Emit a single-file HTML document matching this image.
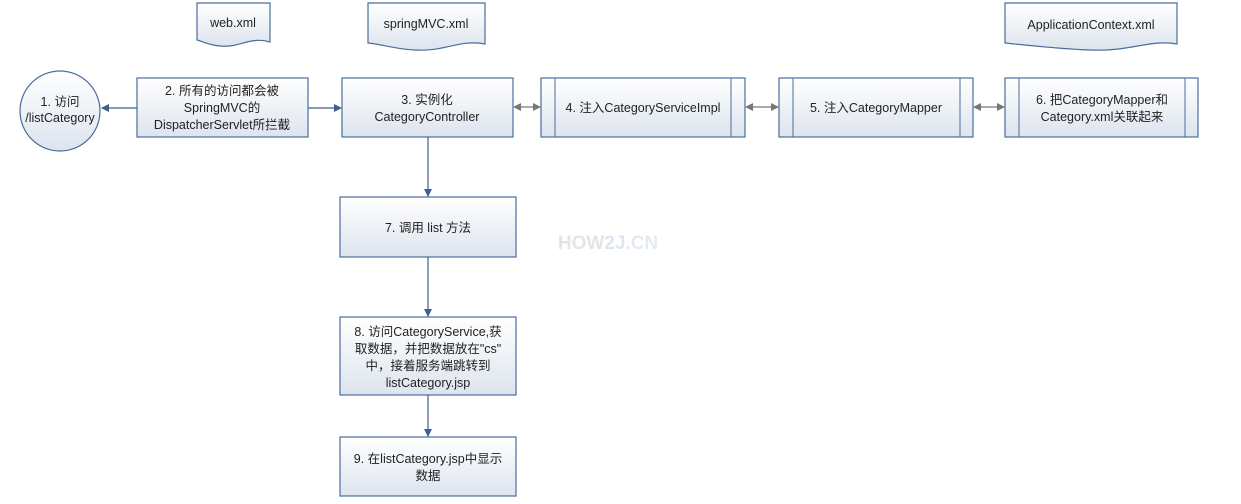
<!DOCTYPE html>
<html><head><meta charset="utf-8"><style>
html,body{margin:0;padding:0;background:#fff;}
svg{display:block;}
text{font-family:"Liberation Sans","Noto Sans CJK SC",sans-serif;font-size:12.5px;fill:#222;text-anchor:middle;}
</style></head><body>
<svg width="1241" height="504" viewBox="0 0 1241 504" xmlns="http://www.w3.org/2000/svg">
<defs>
<linearGradient id="g" x1="0" y1="0" x2="0" y2="1"><stop offset="0" stop-color="#ffffff"/><stop offset="1" stop-color="#dde4ee"/></linearGradient>
<marker id="a" markerWidth="8" markerHeight="8" refX="7" refY="4" orient="auto" markerUnits="userSpaceOnUse"><path d="M0,0 L8,4 L0,8 Z" fill="#3d5f8f"/></marker>
<marker id="b" markerWidth="8" markerHeight="8" refX="7" refY="4" orient="auto-start-reverse" markerUnits="userSpaceOnUse"><path d="M0,0 L8,4 L0,8 Z" fill="#777"/></marker>
</defs>
<g stroke="#4a6d9c" stroke-width="1.2" fill="url(#g)">
<path d="M197,3 H270 V42 C250,36 240,48 220,46 C208,45 202,41 197,40 Z"/>
<path d="M368,3 H485 V44 C460,39 445,52 415,50 C395,49 380,44 368,43 Z"/>
<path d="M1005,3 H1177 V44 C1150,39 1130,52 1090,50 C1060,49 1025,45 1005,43 Z"/>
<circle cx="60" cy="111" r="40"/>
<rect x="137" y="78" width="171" height="59"/>
<rect x="342" y="78" width="171" height="59"/>
<rect x="541" y="78" width="204" height="59"/>
<rect x="779" y="78" width="194" height="59"/>
<rect x="1005" y="78" width="193" height="59"/>
<rect x="340" y="197" width="176" height="60"/>
<rect x="340" y="317" width="176" height="78"/>
<rect x="340" y="437" width="176" height="59"/>
</g>
<g stroke="#4a6d9c" stroke-width="1">
<line x1="555" y1="78" x2="555" y2="137"/><line x1="731" y1="78" x2="731" y2="137"/>
<line x1="793" y1="78" x2="793" y2="137"/><line x1="960" y1="78" x2="960" y2="137"/>
<line x1="1019" y1="78" x2="1019" y2="137"/><line x1="1185" y1="78" x2="1185" y2="137"/>
</g>
<g stroke="#3d5f8f" stroke-width="1.2" fill="none">
<line x1="137" y1="108" x2="102" y2="108" marker-end="url(#a)"/>
<line x1="308" y1="108" x2="341" y2="108" marker-end="url(#a)"/>
<line x1="428" y1="137" x2="428" y2="196" marker-end="url(#a)"/>
<line x1="428" y1="257" x2="428" y2="316" marker-end="url(#a)"/>
<line x1="428" y1="395" x2="428" y2="436" marker-end="url(#a)"/>
</g>
<g stroke="#777" stroke-width="1.2">
<line x1="514" y1="107" x2="540" y2="107" marker-start="url(#b)" marker-end="url(#b)"/>
<line x1="746" y1="107" x2="778" y2="107" marker-start="url(#b)" marker-end="url(#b)"/>
<line x1="974" y1="107" x2="1004" y2="107" marker-start="url(#b)" marker-end="url(#b)"/>
</g>
<text x="233" y="27">web.xml</text>
<text x="426" y="28">springMVC.xml</text>
<text x="1091" y="29">ApplicationContext.xml</text>
<text x="60" y="106">1.  访问</text>
<text x="60" y="122">/listCategory</text>
<text x="222" y="95">2.  所有的访问都会被</text>
<text x="222" y="112">SpringMVC的</text>
<text x="222" y="129">DispatcherServlet所拦截</text>
<text x="427" y="104">3.  实例化</text>
<text x="427" y="121">CategoryController</text>
<text x="643" y="112">4.  注入CategoryServiceImpl</text>
<text x="876" y="112">5.  注入CategoryMapper</text>
<text x="1102" y="104">6. 把CategoryMapper和</text>
<text x="1102" y="121">Category.xml关联起来</text>
<text x="428" y="232">7.  调用  list 方法</text>
<text x="428" y="336">8.  访问CategoryService,获</text>
<text x="428" y="353">取数据，并把数据放在"cs"</text>
<text x="428" y="370">中，接着服务端跳转到</text>
<text x="428" y="387">listCategory.jsp</text>
<text x="428" y="463">9.  在listCategory.jsp中显示</text>
<text x="428" y="480">数据</text>
<text x="608" y="249" style="font-size:19px;font-weight:bold;fill:#e4e4e4">HOW<tspan fill="#dce6f2">2J</tspan><tspan fill="#e2eaf4">.CN</tspan></text>
</svg>
</body></html>
